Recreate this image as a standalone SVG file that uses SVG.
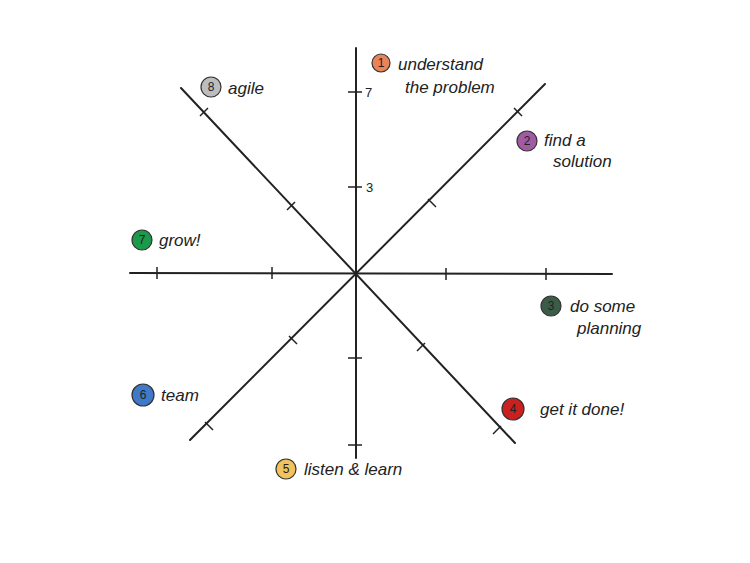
<svg xmlns="http://www.w3.org/2000/svg" width="750" height="563" viewBox="0 0 750 563">
<style>
.ax{stroke:#222;stroke-width:2;fill:none;stroke-linecap:round}
.tk{stroke:#222;stroke-width:1.5;fill:none}
.c{stroke:#333;stroke-width:1.2}
.n{font-family:"Liberation Sans",sans-serif;font-size:12px;fill:#222;text-anchor:middle}
.t{font-family:"Liberation Sans",sans-serif;font-size:17px;fill:#222;font-style:italic}
.s{font-family:"Liberation Sans",sans-serif;font-size:13px;fill:#222}
</style>
<rect width="750" height="563" fill="#fff"/>
<g id="connectors">
<line class="ax" x1="356" y1="48" x2="356" y2="458"/>
<line class="ax" x1="130" y1="273" x2="612" y2="274"/>
<line class="ax" x1="190" y1="440" x2="545" y2="84"/>
<line class="ax" x1="181" y1="88" x2="515" y2="443"/>
<path class="tk" d="M348 92h14M348 187h14M348 358h14M348 445h14M157 267v12M272 267v12M446 268v12M546 268v12M428 199l8 8M514 108l8 8M289 336l8 8M205 422l8 8M200 116l8 -8M287 210l8 -8M417 351l8 -8M493 434l8 -8"/>
<text class="s" x="365" y="97">7</text>
<text class="s" x="366" y="192">3</text>
</g>
<g id="n1"><circle class="c" cx="381" cy="63" r="9" fill="#e9835a"/><text class="n" x="381" y="67">1</text><text class="t" x="398" y="70">understand</text><text class="t" x="405" y="93">the problem</text></g>
<g id="n2"><circle class="c" cx="527" cy="141" r="10" fill="#a05ba3"/><text class="n" x="527" y="145">2</text><text class="t" x="544" y="146">find a</text><text class="t" x="553" y="167">solution</text></g>
<g id="n3"><circle class="c" cx="551" cy="306" r="10" fill="#3b5d48"/><text class="n" x="551" y="310">3</text><text class="t" x="570" y="312">do some</text><text class="t" x="577" y="334">planning</text></g>
<g id="n4"><circle class="c" cx="513" cy="409" r="11" fill="#cc1f1f"/><text class="n" x="513" y="413">4</text><text class="t" x="540" y="415">get it done!</text></g>
<g id="n5"><circle class="c" cx="286" cy="469" r="10" fill="#f2c35a"/><text class="n" x="286" y="473">5</text><text class="t" x="304" y="475">listen &amp; learn</text></g>
<g id="n6"><circle class="c" cx="143" cy="395" r="11" fill="#3f79c8"/><text class="n" x="143" y="399">6</text><text class="t" x="161" y="401">team</text></g>
<g id="n7"><circle class="c" cx="142" cy="240" r="10" fill="#1a9a4a"/><text class="n" x="142" y="244">7</text><text class="t" x="159" y="246">grow!</text></g>
<g id="n8"><circle class="c" cx="211" cy="87" r="10" fill="#bdbdbd"/><text class="n" x="211" y="91">8</text><text class="t" x="228" y="94">agile</text></g>
</svg>
